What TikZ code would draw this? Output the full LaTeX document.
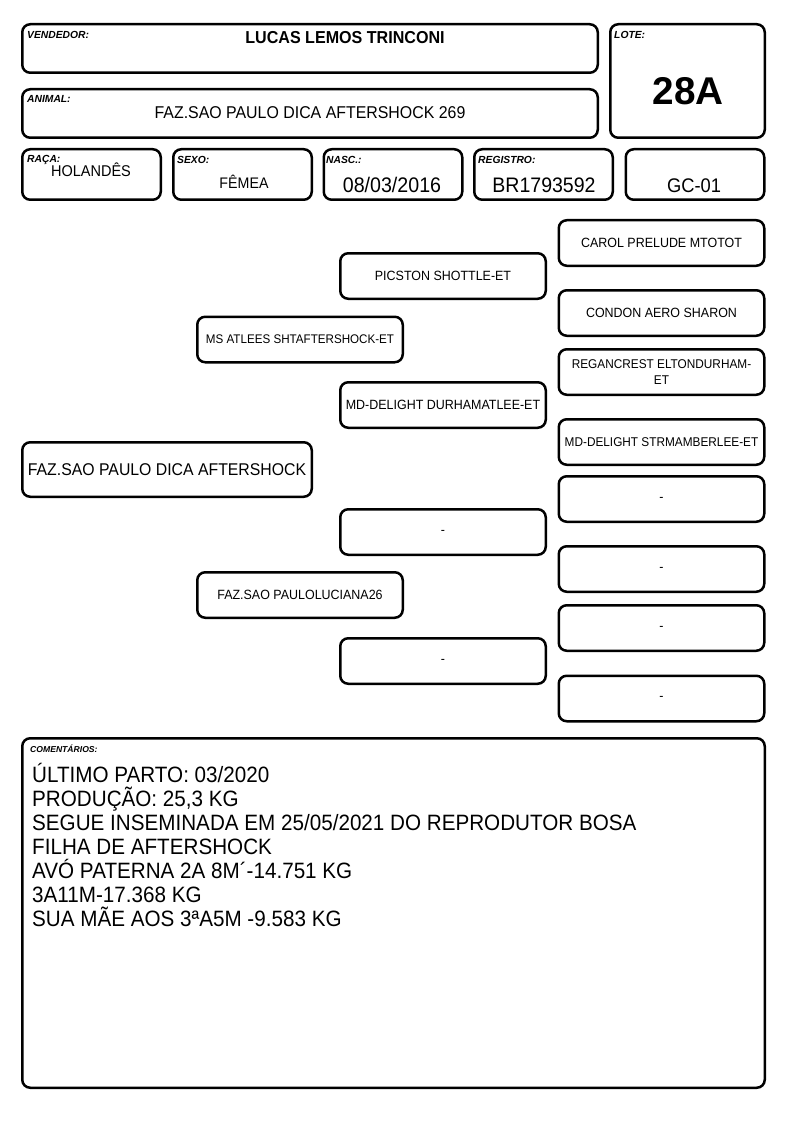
\documentclass[tikz,border=0pt]{standalone}
\usepackage{fontspec}
\setmainfont{Liberation Sans}[FakeStretch=0.93]
\newfontfamily\plainsans{Liberation Sans}
\newcommand{\pfont}[1]{\fontsize{#1}{1.2\dimexpr #1pt\relax}\selectfont}
\tikzset{
  card/.style={draw, line width=2.5pt, rounded corners=8pt, inner sep=0pt},
  tag/.style={anchor=base west, inner sep=0pt, font=\plainsans\pfont{10.3}\bfseries\itshape},
  val/.style={anchor=base, inner sep=0pt},
  ped/.style={card, minimum width=205.5pt, minimum height=45.5pt, align=center, font=\pfont{13.4}},
}

\begin{document}
\begin{tikzpicture}[x=1pt,y=-1pt]
	\useasboundingbox (0,0) rectangle (794,1123);
	% cabecalho
	\node[card, minimum width=575.5pt, minimum height=48.5pt] (vendedor) at (310,48.5) {};
	\node[card, minimum width=575.5pt, minimum height=48.5pt] (animal) at (310,113.5) {};
	\node[card, minimum width=154.5pt, minimum height=113.5pt] (lote) at (687.5,81) {};
	\node[tag] (tvendedor) at (27,39) {VENDEDOR:};
	\node[val, font=\pfont{17.3}\bfseries] (nvendedor) at (345,44) {LUCAS LEMOS TRINCONI};
	\node[tag] (tanimal) at (27,103) {ANIMAL:};
	\node[val, font=\pfont{17.1}] (nanimal) at (310,119) {FAZ.SAO PAULO DICA AFTERSHOCK 269};
	\node[tag] (tlote) at (614,39) {LOTE:};
	\node[val, font=\plainsans\pfont{38.7}\bfseries] (nlote) at (688,105) {28A};
	% linha de dados
	\foreach \nome/\cx in {raca/91.5, sexo/242.5, nasc/393, registro/543.5, gc/695}
		\node[card, minimum width=138.5pt, minimum height=50.5pt] (\nome) at (\cx,174.5) {};
	\node[tag] (traca) at (27,163) {RAÇA:};
	\node[val, font=\pfont{15.6}] (nraca) at (91,177) {HOLANDÊS};
	\node[tag] (tsexo) at (177,164) {SEXO:};
	\node[val, font=\pfont{15.3}] (nsexo) at (244,189) {FÊMEA};
	\node[tag] (tnasc) at (326,164) {NASC.:};
	\node[val, font=\pfont{21.1}] (nnasc) at (392,193) {08/03/2016};
	\node[tag] (tregistro) at (478,164) {REGISTRO:};
	\node[val, font=\pfont{21}] (nregistro) at (544,193) {BR1793592};
	\node[val, font=\pfont{19.7}] (ngc) at (694,193) {GC-01};
	% genealogia
	\node[card, minimum width=289.5pt, minimum height=54.5pt, font=\pfont{17}] (an) at (167,469.5) {FAZ.SAO PAULO DICA AFTERSHOCK};
	\node[ped, font=\pfont{12.5}] (pai) at (300,339.5) {MS ATLEES SHTAFTERSHOCK-ET};
	\node[ped] (mae) at (300,595) {FAZ.SAO PAULOLUCIANA26};
	\node[ped] (avo1) at (443,276) {PICSTON SHOTTLE-ET};
	\node[ped] (avo2) at (443,405) {MD-DELIGHT DURHAMATLEE-ET};
	\node[ped] (avo3) at (443,532) {-};
	\node[ped] (avo4) at (443,661) {-};
	\node[ped] (bis1) at (661.5,243) {CAROL PRELUDE MTOTOT};
	\node[ped] (bis2) at (661.5,313) {CONDON AERO SHARON};
	\node[ped, font=\fontsize{12.7}{16}\selectfont] (bis3) at (661.5,372) {REGANCREST ELTONDURHAM-\\ET};
	\node[ped, font=\pfont{12.7}] (bis4) at (661.5,442) {MD-DELIGHT STRMAMBERLEE-ET};
	\node[ped] (bis5) at (661.5,499) {-};
	\node[ped] (bis6) at (661.5,569) {-};
	\node[ped] (bis7) at (661.5,628) {-};
	\node[ped] (bis8) at (661.5,698.5) {-};
	% comentarios
	\node[card, minimum width=742.5pt, minimum height=349.5pt] (coment) at (393.5,913) {};
	\node[tag, font=\plainsans\pfont{8.6}\bfseries\itshape] (tcoment) at (30,752) {COMENTÁRIOS:};
	\foreach \linha [count=\i] in {{ÚLTIMO PARTO: 03/2020}, {PRODUÇÃO: 25,3 KG},
		{SEGUE INSEMINADA EM 25/05/2021 DO REPRODUTOR BOSA}, {FILHA DE AFTERSHOCK},
		{AVÓ PATERNA 2A 8M´-14.751 KG}, {3A11M-17.368 KG}, {SUA MÃE AOS 3ªA5M -9.583 KG}}
		\node[anchor=base west, inner sep=0pt, font=\pfont{22.2}] (linha\i) at (32,{782+24*(\i-1)}) {\linha};
\end{tikzpicture}
\end{document}
